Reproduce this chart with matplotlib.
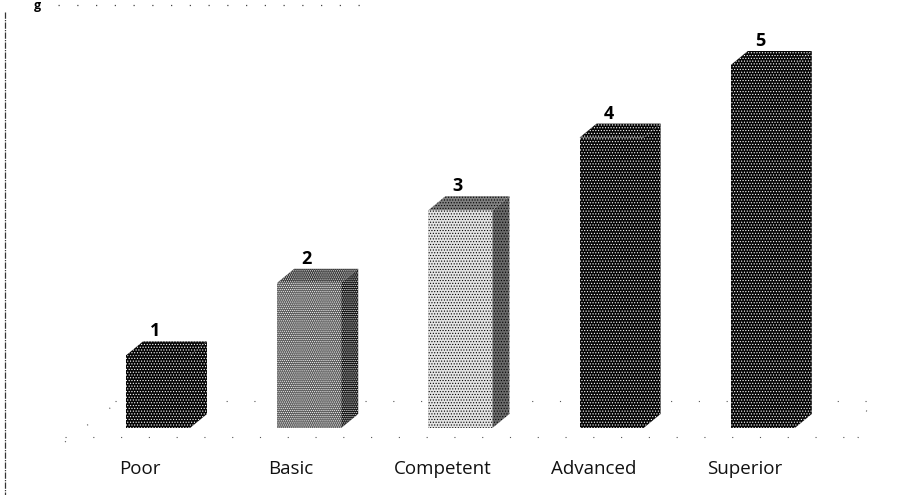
import matplotlib; matplotlib.use('Agg')
import matplotlib.pyplot as plt
from matplotlib.patches import Polygon

# Data
categories = ['Poor', 'Basic', 'Competent', 'Advanced', 'Superior']
scores = [1, 2, 3, 4, 5]

# Layout in reference pixels
W, H = 924, 495
X0_PX, UNIT_X = 158, 151.2
Y0_PX, UNIT_Y = 428, 72.6
BAR_W = 64 / UNIT_X
DX, DY = 17 / UNIT_X, 14 / UNIT_Y
LABEL_SHIFT = 18 / UNIT_X

# front colour, hatch colour, hatch, side colour, top colour
styles = [
    ('#050505', 'white', '......', '#050505', '#050505'),
    ('#5f5f5f', 'white', '........', '#141414', '#3a3a3a'),
    ('#e4e4e4', 'black', '......', '#6a6a6a', '#808080'),
    ('#050505', 'white', '......', '#050505', '#050505'),
    ('#050505', 'white', '......', '#050505', '#050505'),
]

plt.rcParams['font.family'] = ['Open Sans', 'DejaVu Sans']
plt.rcParams['hatch.linewidth'] = 0.5

fig = plt.figure(figsize=(W / 100, H / 100), dpi=100)
ax = fig.add_axes([0, 0, 1, 1])
ax.set_xlim(-X0_PX / UNIT_X, (W - X0_PX) / UNIT_X)
ax.set_ylim(-(H - Y0_PX) / UNIT_Y, Y0_PX / UNIT_Y)


def px(x, y):
    return (x - X0_PX) / UNIT_X, (Y0_PX - y) / UNIT_Y


# Floor, faint dotted outline
floor = [
    ([65, 858], [437, 437]),
    ([115, 868], [401, 401]),
    ([65, 118], [442, 402]),
    ([858, 870], [438, 400]),
]
for xs, ys in floor:
    pts = [px(a, b) for a, b in zip(xs, ys)]
    ax.plot([p[0] for p in pts], [p[1] for p in pts], color='#555555', lw=0.8,
            linestyle=(0, (1, 24)), zorder=1)

# Left frame edge and the remains of the caption row
pts = [px(5, 12), px(5, 495)]
ax.plot([p[0] for p in pts], [p[1] for p in pts], color='#333333', lw=0.9,
        linestyle=(0, (5, 1, 1, 1)), zorder=1)
pts = [px(58, 5), px(368, 5)]
ax.plot([p[0] for p in pts], [p[1] for p in pts], color='#444444', lw=0.9,
        linestyle=(0, (1, 14)), zorder=1)
gx, gy = px(37, 6)
ax.text(gx, gy, 'g', fontsize=9, fontweight='bold', ha='center', va='center')

# Bars
xpos = list(range(len(categories)))
for x, v, st in zip(xpos, scores, styles):
    face, hcol, hatch, side, top = st
    left, right = x - BAR_W / 2, x + BAR_W / 2
    ax.bar(x, v, width=BAR_W, facecolor=face, edgecolor=hcol, hatch=hatch,
           linewidth=0, zorder=3)
    ax.add_patch(Polygon([(right, 0), (right + DX, DY), (right + DX, v + DY), (right, v)],
                         facecolor=side, edgecolor=hcol, hatch=hatch, linewidth=0, zorder=3))
    ax.add_patch(Polygon([(left, v), (left + DX, v + DY), (right + DX, v + DY), (right, v)],
                         facecolor=top, edgecolor=hcol, hatch=hatch, linewidth=0, zorder=3))
    ax.text(x - 3 / UNIT_X, v + DY + 1 / UNIT_Y, str(v), ha='center', va='bottom',
            fontsize=13, fontweight='bold', color='black', zorder=4)

# Category labels
ax.set_xticks([x - LABEL_SHIFT for x in xpos])
ax.set_xticklabels(categories, fontsize=13.5, color='#111111')
ax.tick_params(axis='x', length=0, direction='in', pad=-25.5)
ax.set_yticks([])
for s in ax.spines.values():
    s.set_visible(False)

plt.savefig('out.png', dpi=100)
plt.close()
